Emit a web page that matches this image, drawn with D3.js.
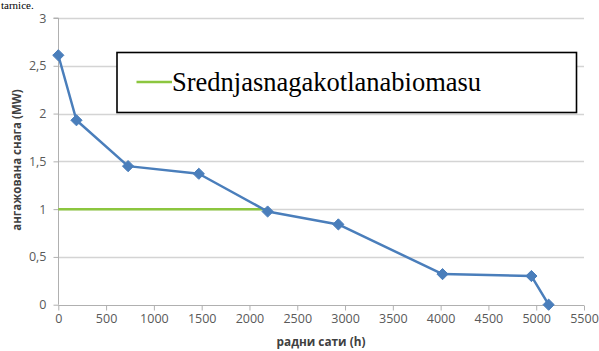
<!DOCTYPE html>
<html><head><meta charset="utf-8">
<script src="https://cdn.jsdelivr.net/npm/d3@7"></script>
<style>body{margin:0;background:#fff;overflow:hidden}svg{display:block}</style>
</head><body>
<script>
const hours = [0, 190, 730, 1470, 2190, 2930, 4020, 4950, 5130];
const power = [2.61, 1.93, 1.45, 1.37, 0.975, 0.84, 0.32, 0.30, 0];
const avgHours = [0, 2190];
const avgPower = [1, 1];
const xTicks = [0, 500, 1000, 1500, 2000, 2500, 3000, 3500, 4000, 4500, 5000, 5500];
const yTicks = [0, 0.5, 1, 1.5, 2, 2.5, 3];
const yTickLabels = ["0", "0,5", "1", "1,5", "2", "2,5", "3"];
const legendLabel = "Srednjasnagakotlanabiomasu";
const xTitle = "радни сати (h)";
const yTitle = "ангажована  снага (MW)";
const topText = "tarnice.";

const SERIF = "'Liberation Serif', 'Times New Roman', 'DejaVu Serif', serif";
const SANS = "'Open Sans', 'Liberation Sans', sans-serif";

const W = 599, H = 351;
const svg = d3.select("body").append("svg").attr("width", W).attr("height", H);
const x = d3.scaleLinear().domain([0, 5500]).range([58.3, 584]);
const y = d3.scaleLinear().domain([0, 3]).range([304.7, 18]);

// document text at top
svg.append("text").attr("x", 1).attr("y", 9).attr("font-family", SERIF)
  .attr("font-size", 11).attr("fill", "#000").text(topText);

// gridlines
svg.append("g").selectAll("line").data(yTicks.filter(d => d > 0)).join("line")
  .attr("x1", x(0)).attr("x2", x(5500)).attr("y1", d => Math.round(y(d)) + 0.5).attr("y2", d => Math.round(y(d)) + 0.5)
  .attr("stroke", "#d4d4d4").attr("stroke-width", 1.3);

// y axis
const yAxis = d3.axisLeft(y).tickValues(yTicks).tickSize(5).tickPadding(7)
  .tickFormat((d, i) => yTickLabels[i]);
const gy = svg.append("g").attr("transform", `translate(${Math.round(x(0)) + 0.5},0)`).call(yAxis);
gy.select(".domain").attr("stroke", "#b0b0b0").attr("d", `M-5,${y(3)}H0V${y(0)}`);
gy.selectAll(".tick line").attr("stroke", "#b0b0b0");
gy.selectAll(".tick text").attr("fill", "#595959").attr("font-family", SANS).attr("font-size", 12.5);

// x axis
const xAxis = d3.axisBottom(x).tickValues(xTicks).tickSize(5).tickPadding(4).tickFormat(d3.format("d"));
const gx = svg.append("g").attr("transform", `translate(0,${Math.round(y(0)) + 0.5})`).call(xAxis);
gx.select(".domain").attr("stroke", "#b0b0b0").attr("d", `M${x(0)},0H${x(5500)}`);
gx.selectAll(".tick line").attr("stroke", "#b0b0b0");
gx.selectAll(".tick text").attr("fill", "#595959").attr("font-family", SANS).attr("font-size", 12.5);

// axis titles
svg.append("text").attr("x", 321).attr("y", 346).attr("text-anchor", "middle")
  .attr("font-family", SANS).attr("font-weight", "bold").attr("font-size", 11.8)
  .attr("fill", "#404040").text(xTitle);
svg.append("text").attr("transform", "translate(21,160) rotate(-90)").attr("text-anchor", "middle")
  .attr("font-family", SANS).attr("font-weight", "bold").attr("font-size", 11.5)
  .attr("fill", "#404040").text(yTitle);

// green average line
const line = d3.line().x(d => x(d[0])).y(d => y(d[1]));
svg.append("path").datum(d3.zip(avgHours, avgPower)).attr("d", line)
  .attr("fill", "none").attr("stroke", "#8cc63f").attr("stroke-width", 2.5);

// blue series
svg.append("path").datum(d3.zip(hours, power)).attr("d", line)
  .attr("fill", "none").attr("stroke", "#4a7ebb").attr("stroke-width", 2.5).attr("stroke-linejoin", "round");
const sym = d3.symbol().type(d3.symbolDiamond2).size(80);
svg.append("g").selectAll("path").data(d3.zip(hours, power)).join("path")
  .attr("transform", d => `translate(${x(d[0])},${y(d[1])})`).attr("d", sym)
  .attr("fill", "#4a7ebb").attr("stroke", "#4a7ebb").attr("stroke-width", 1);

// legend
const lg = svg.append("g");
lg.append("rect").attr("x", 117).attr("y", 52.5).attr("width", 459.5).attr("height", 60)
  .attr("fill", "#fff").attr("stroke", "#000").attr("stroke-width", 1.6);
lg.append("line").attr("x1", 136.5).attr("x2", 172).attr("y1", 82).attr("y2", 82)
  .attr("stroke", "#8cc63f").attr("stroke-width", 2.5);
lg.append("text").attr("x", 172).attr("y", 91).attr("font-family", SERIF)
  .attr("font-size", 26.5).attr("fill", "#000").text(legendLabel);
</script>
</body></html>
